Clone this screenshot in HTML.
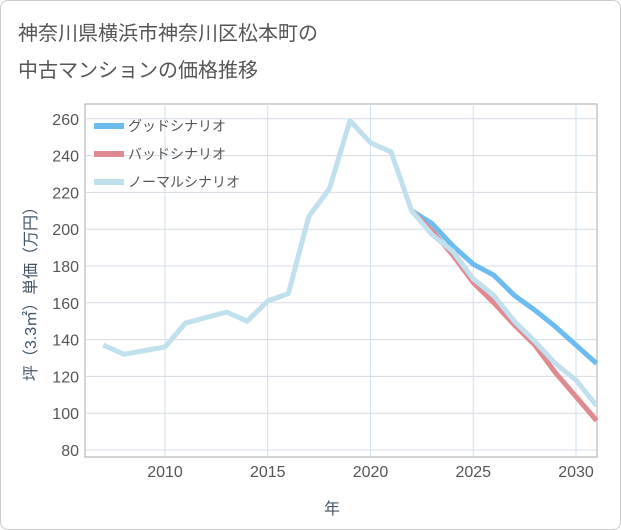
<!DOCTYPE html>
<html><head><meta charset="utf-8"><style>
body{margin:0;background:#fff;font-family:"Liberation Sans","Noto Sans CJK JP",sans-serif}
.wrap{position:relative;width:619px;height:528px;border:1px solid #ccc;border-radius:8px;background:#fff}
</style></head><body>
<div class="wrap">
<svg width="621" height="530" style="position:absolute;left:-1px;top:-1px">
<text x="18" y="40" font-size="20" fill="#555">神奈川県横浜市神奈川区松本町の</text>
<text x="18" y="77" font-size="20" fill="#555">中古マンションの価格推移</text>
<g id="grid"></g><g id="series"></g><g id="axes"></g>
<text x="332" y="514" font-size="16" fill="#445566" text-anchor="middle">年</text>
<text transform="translate(36,290) rotate(-90)" font-size="16" fill="#445566" text-anchor="middle">坪（3.3㎡）単価（万円）</text>
</svg>
</div>
<script>
const years=[2007,2008,2009,2010,2011,2012,2013,2014,2015,2016,2017,2018,2019,2020,2021,2022,2023,2024,2025,2026,2027,2028,2029,2030,2031];
const normal=[137,132,134,136,149,152,155,150,161,165,207,222,259,247,242,210,197,188,173,164,150,139,127,118,104];
const fYears=[2022,2023,2024,2025,2026,2027,2028,2029,2030,2031];
const good=[210,203,191,181,175,164,156,147,137,127];
const bad=[210,199,186,171,160,148,137,122,109,96];
const yTicks=[80,100,120,140,160,180,200,220,240,260];
const xTicks=[2010,2015,2020,2025,2030];
const L=85,R=597,T=104,B=457;
const X=v=>165+(v-2010)*20.55;
const Y=v=>450-(v-80)*1.84;
const NS="http://www.w3.org/2000/svg";
function mk(t,a,p){const e=document.createElementNS(NS,t);for(const k in a)e.setAttribute(k,a[k]);p.appendChild(e);return e;}
const grid=document.getElementById('grid'),ser=document.getElementById('series'),ax=document.getElementById('axes');
mk('rect',{x:L,y:T,width:R-L,height:B-T,fill:'none',stroke:'#aaa','stroke-width':1},grid);
yTicks.forEach(v=>{const l=mk('line',{x1:L,x2:R,y1:Y(v),y2:Y(v),stroke:'#d5dbe3'},grid);

const t=mk('text',{x:L-6,y:Y(v)+6,'font-size':16,fill:'#555','text-anchor':'end'},ax);t.textContent=v;
});
xTicks.forEach(v=>{const l=mk('line',{x1:X(v),x2:X(v),y1:T,y2:B,stroke:'#d0e0ee'},grid);

const t=mk('text',{x:X(v),y:477,'font-size':16,fill:'#555','text-anchor':'middle'},ax);t.textContent=v;
});
function line(xs,ys,c,n){const p=mk('polyline',{points:xs.map((x,i)=>X(x)+','+Y(ys[i])).join(' '),fill:'none',stroke:c,'stroke-width':5,'stroke-linejoin':'round'},ser);
}
line(fYears,good,'#6dbcf0','good-scenario-line');
line(fYears,bad,'#de8a90','bad-scenario-line');
line(years,normal,'#bfe0ec','normal-scenario-line');
const leg=[['グッドシナリオ','#6dbcf0'],['バッドシナリオ','#de8a90'],['ノーマルシナリオ','#bfe0ec']];
leg.forEach((d,i)=>{const y=126+i*28;const r=mk('rect',{x:94,y:y-3,width:30,height:6,fill:d[1]},ax);

const t=mk('text',{x:128,y:y+5,'font-size':14,fill:'#555'},ax);t.textContent=d[0];
});
</script>
</body></html>
